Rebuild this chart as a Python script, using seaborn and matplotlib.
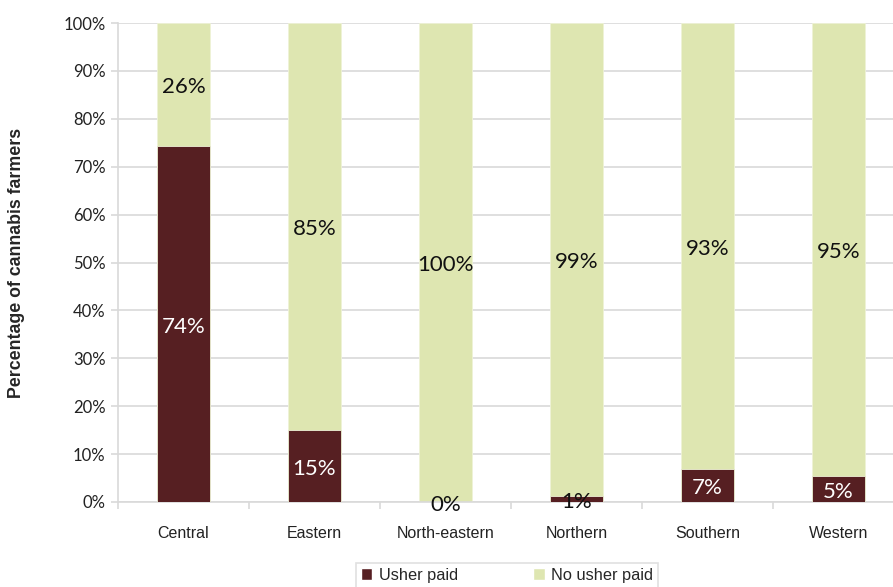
import matplotlib
matplotlib.use("Agg")
import matplotlib.pyplot as plt
import seaborn as sns
import pandas as pd
from matplotlib.patches import Patch

regions = ["Central", "Eastern", "North-eastern", "Northern", "Southern", "Western"]
usher_paid = [74.3, 15.0, 0.0, 1.3, 6.9, 5.4]
no_usher_paid = [25.7, 85.0, 100.0, 98.7, 93.1, 94.6]
series_names = ["Usher paid", "No usher paid"]
yticks = [0, 10, 20, 30, 40, 50, 60, 70, 80, 90, 100]

dark = "#561F22"
light = "#DEE6B1"

df = pd.DataFrame({"region": regions, "paid": usher_paid, "nopaid": no_usher_paid})
df["total"] = df["paid"] + df["nopaid"]

sns.set_style("white")
fig = plt.figure(figsize=(8.93, 5.87), dpi=100)
ax = fig.add_axes([118/893, 1 - 502/587, 786/893, 479/587])

sns.barplot(data=df, x="region", y="total", color=light, width=0.4, ax=ax,
            saturation=1, zorder=2, edgecolor="#EEF2D6", linewidth=0.6)
sns.barplot(data=df, x="region", y="paid", color=dark, width=0.4, ax=ax,
            saturation=1, zorder=3, edgecolor="#EEF2D6", linewidth=0.6)

ax.set_ylim(0, 100)
ax.set_xlim(-0.5, len(regions) - 0.5)
ax.set_yticks(yticks)
ax.set_yticklabels([f"{t}%" for t in yticks], fontsize=12, family="Lato", color="#222222")
ax.yaxis.grid(True, color="#D9D9D9", linewidth=1.2, zorder=0)
ax.set_axisbelow(True)
for s in ["top", "right"]:
    ax.spines[s].set_visible(False)
for s in ["left", "bottom"]:
    ax.spines[s].set_color("#D9D9D9")
    ax.spines[s].set_linewidth(1.2)
ax.tick_params(axis="y", left=True, length=5, color="#D9D9D9", width=1.2, pad=4)
ax.set_xticks(range(len(regions)))
ax.set_xticklabels(regions, fontsize=11.5, family="Liberation Sans", color="#222222")
ax.tick_params(axis="x", bottom=False, pad=14)
ax.set_xticks([i + 0.5 for i in range(-1, len(regions))], minor=True)
ax.tick_params(axis="x", which="minor", bottom=True, length=5, color="#D9D9D9", width=1.2)
ax.set_xlabel("")
ax.set_ylabel("Percentage of cannabis farmers", fontsize=12.8, fontweight="bold",
              family="Liberation Sans")
ax.yaxis.set_label_coords(-93/786, 0.5)

for i, (p, n) in enumerate(zip(usher_paid, no_usher_paid)):
    ax.text(i, p / 2 - 0.6, f"{round(p):.0f}%", ha="center", va="center", fontsize=16,
            family="Lato", fontweight="normal", color="white" if p > 3 else "#111111", zorder=5)
    ax.text(i, p + n / 2 - 0.6, f"{round(n):.0f}%", ha="center", va="center", fontsize=16,
            family="Lato", fontweight="normal", color="#111111", zorder=5)

handles = [Patch(facecolor=dark, label=series_names[0]),
           Patch(facecolor=light, label=series_names[1])]
leg = fig.legend(handles=handles, loc="upper center", bbox_to_anchor=(507/893, 1 - 563/587),
                 ncol=2, frameon=True, fancybox=False, handlelength=0.7, handleheight=0.7,
                 columnspacing=4.6, handletextpad=0.4, borderpad=0.3, borderaxespad=0,
                 prop={"family": "Liberation Sans", "size": 11.8})
leg.get_frame().set_edgecolor("#D9D9D9")
leg.get_frame().set_linewidth(1.2)

fig.savefig("out.png", dpi=100)
